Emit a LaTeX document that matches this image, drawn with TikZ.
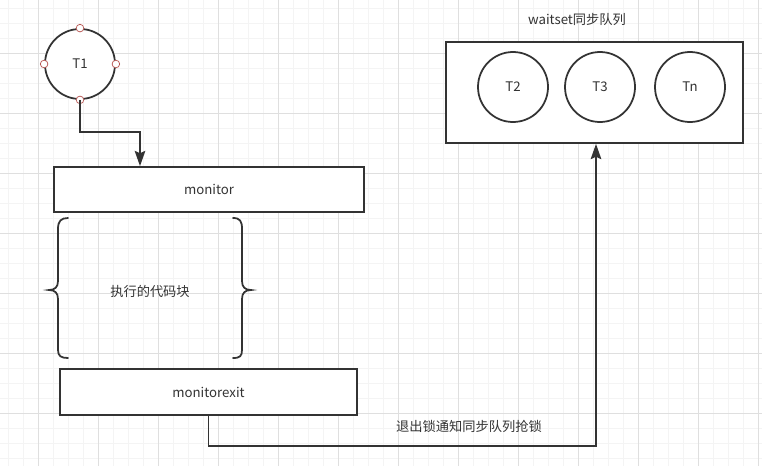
\documentclass[tikz,border=0pt]{standalone}
\usepackage{fontspec}
\setmainfont{Noto Sans CJK SC}
\usetikzlibrary{arrows.meta,calc}
\definecolor{ink}{HTML}{333333}
\definecolor{pin}{HTML}{B85450}
\tikzset{
  gridminor/.style={draw=gray!9,line width=0.4pt},
  gridmajor/.style={draw=gray!25,line width=0.5pt},
  box/.style={draw=ink,line width=1.5pt,fill=white,text=ink,font=\fontsize{11.3}{13}\selectfont},
  thread/.style={circle,draw=ink,line width=1.5pt,fill=white,text=ink,minimum size=2.1cm,inner sep=0pt,font=\fontsize{11.3}{13}\selectfont},
  brace/.style={draw=ink,line width=1.5pt,line cap=round},
  arr/.style={draw=ink,line width=1.5pt,-{Stealth[length=13pt,width=9pt,inset=2pt]}},
  lbl/.style={text=ink,font=\fontsize{11.3}{13}\selectfont},
  pinpt/.style={circle,draw=pin,fill=white,line width=0.6pt,minimum size=6.5pt,inner sep=0pt}
}
\begin{document}
\begin{tikzpicture}[x=0.03cm,y=-0.03cm]
	\useasboundingbox (0,0) rectangle (762,466);
	\fill[white] (0,0) rectangle (762,466);
	% grid
	\foreach \gx in {8,23,...,762} \draw[gridminor] (\gx,0) -- (\gx,466);
	\foreach \gy in {8,23,...,466} \draw[gridminor] (0,\gy) -- (762,\gy);
	\foreach \gx in {38,98,...,762} \draw[gridmajor] (\gx,0) -- (\gx,466);
	\foreach \gy in {53,113,...,466} \draw[gridmajor] (0,\gy) -- (762,\gy);
	% thread T1
	\node[thread] (T1) at (80,64) {T1};
	\foreach \side in {north,south,east,west}
		\node[pinpt] at (T1.\side) {};
	% code blocks
	\node[box,minimum width=9.3cm,minimum height=1.35cm] (monitor) at (209,189.5) {monitor};
	\node[box,minimum width=8.91cm,minimum height=1.38cm] (monitorexit) at (208.5,392) {monitorexit};
	\node[lbl] (code) at (150,291) {执行的代码块};
	\draw[brace] (68,218) .. controls (61,218) and (58,221) .. (58,229) -- (58,281)
		.. controls (58,287) and (55,290) .. (49,290)
		.. controls (55,290) and (58,293) .. (58,299) -- (58,350)
		.. controls (58,356) and (61,358) .. (68,358);
	\draw[brace] (233,218) .. controls (240,218) and (242,221) .. (242,229) -- (242,281)
		.. controls (242,287) and (245,290) .. (251,290)
		.. controls (245,290) and (242,293) .. (242,299) -- (242,350)
		.. controls (242,356) and (240,358) .. (233,358);
	% wait set
	\node[box,minimum width=8.91cm,minimum height=3.03cm] (waitset) at (594.5,92.5) {};
	\node[lbl] (wstitle) at (577,19) {waitset同步队列};
	\node[thread] (T2) at (513,87) {T2};
	\node[thread] (T3) at (600,87) {T3};
	\node[thread] (Tn) at (690,87) {Tn};
	% connectors
	\coordinate (drop) at (140,132);
	\draw[arr] (T1.south) |- (drop) -- (drop |- monitor.north);
	\coordinate (back) at (596,446);
	\draw[arr] (monitorexit.south) |- (back) -- (back |- waitset.south);
	\node[lbl] (notify) at (469,426) {退出锁通知同步队列抢锁};
\end{tikzpicture}
\end{document}
